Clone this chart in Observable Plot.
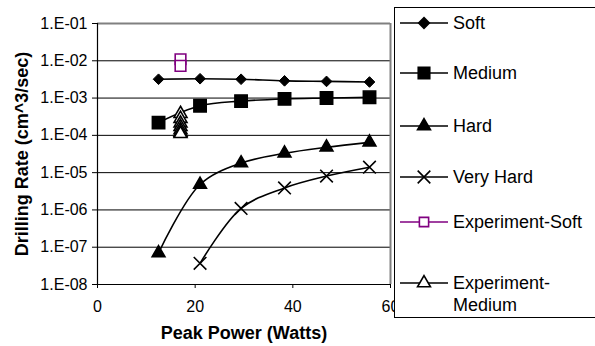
<!DOCTYPE html>
<html>
<head>
<meta charset="utf-8">
<script src="https://cdn.jsdelivr.net/npm/d3@7"></script>
<script src="https://cdn.jsdelivr.net/npm/@observablehq/plot@0.6"></script>
<style>
  html, body { margin: 0; padding: 0; background: #fff; }
  #wrap { position: relative; width: 595px; height: 346px; overflow: hidden; font-family: "Liberation Sans", Arial, sans-serif; }
  #legend { position: absolute; left: 394px; top: 7px; width: 220px; height: 311px; border: 1px solid #000; background: #fff; box-sizing: border-box; }
  .item { position: absolute; left: 0; display: flex; align-items: flex-start; font-size: 18px; color: #000; line-height: 22px; }
  .item svg { flex: none; margin-left: 5px; margin-right: 5px; }
</style>
</head>
<body>
<div id="wrap"></div>
<script>
const powers = [12.5, 21, 29.4, 38.3, 46.9, 55.7];
const soft = [3.2e-3, 3.3e-3, 3.2e-3, 2.9e-3, 2.8e-3, 2.7e-3];
const medium = [2.2e-4, 6.2e-4, 8.3e-4, 9.5e-4, 1.0e-3, 1.05e-3];
const hard = [7.0e-8, 4.8e-6, 1.8e-5, 3.3e-5, 4.8e-5, 6.5e-5];
const veryHardPowers = [21, 29.4, 38.3, 46.9, 55.7];
const veryHard = [3.7e-8, 1.1e-6, 3.9e-6, 8.1e-6, 1.4e-5];
const expPower = 17;
const expSoft = [1.1e-2, 7.3e-3];
const expMedium = [3.8e-4, 2.8e-4, 2.1e-4, 1.7e-4, 1.4e-4, 1.2e-4, 1.1e-4];
const yTicks = [1e-8, 1e-7, 1e-6, 1e-5, 1e-4, 1e-3, 1e-2, 1e-1];
const xTicks = [0, 20, 40, 60];
const seriesNames = ["Soft", "Medium", "Hard", "Very Hard", "Experiment-Soft", "Experiment-\nMedium"];
const xTitle = "Peak Power (Watts)";
const yTitle = "Drilling Rate (cm^3/sec)";

const toRows = (xs, ys) => ys.map((v, i) => ({x: xs[i], y: v}));
const softRows = toRows(powers, soft);
const medRows = toRows(powers, medium);
const hardRows = toRows(powers, hard);
const vhRows = toRows(veryHardPowers, veryHard);
const esRows = expSoft.map(v => ({x: expPower, y: v}));
const emRows = expMedium.map(v => ({x: expPower, y: v}));

const fmt = d => "1.E-" + String(-Math.round(Math.log10(d))).padStart(2, "0");

const chart = Plot.plot({
  width: 595,
  height: 346,
  marginLeft: 97,
  marginRight: 205,
  marginTop: 23,
  marginBottom: 62,
  style: {fontFamily: "'Liberation Sans', Arial, sans-serif", fontSize: "16px", color: "#000", background: "#fff", overflow: "visible"},
  x: {domain: [0, 60], label: null},
  y: {type: "log", domain: [1e-8, 1e-1], label: null},
  marks: [
    Plot.ruleY(yTicks, {stroke: "#000", strokeWidth: 1}),
    Plot.ruleX([60], {stroke: "#808080", strokeWidth: 2}),
    Plot.ruleY([1e-1], {stroke: "#808080", strokeWidth: 2}),
    Plot.ruleX([0], {stroke: "#000", strokeWidth: 1.2}),
    Plot.ruleY([1e-8], {stroke: "#000", strokeWidth: 1.2}),
    Plot.axisX({ticks: xTicks, tickSize: 4, tickPadding: 12, fontSize: 16, label: null}),
    Plot.axisY({ticks: yTicks, tickFormat: fmt, tickSize: 5, tickPadding: 5, fontSize: 16, label: null}),
    Plot.line(softRows, {x: "x", y: "y", curve: "catmull-rom", stroke: "#000", strokeWidth: 1.6}),
    Plot.line(medRows, {x: "x", y: "y", curve: "catmull-rom", stroke: "#000", strokeWidth: 1.6}),
    Plot.line(hardRows, {x: "x", y: "y", curve: "catmull-rom", stroke: "#000", strokeWidth: 1.6}),
    Plot.line(vhRows, {x: "x", y: "y", curve: "catmull-rom", stroke: "#000", strokeWidth: 1.6}),
    Plot.dot(softRows, {x: "x", y: "y", symbol: "diamond2", r: 4.8, fill: "#000", stroke: "#000", strokeWidth: 1}),
    Plot.dot(medRows, {x: "x", y: "y", symbol: "square", r: 7, fill: "#000", stroke: "#000"}),
    Plot.dot(hardRows, {x: "x", y: "y", symbol: "triangle", r: 4.8, fill: "#000", stroke: "#000"}),
    Plot.dot(vhRows, {x: "x", y: "y", symbol: "times", r: 5.8, fill: "none", stroke: "#000", strokeWidth: 1.6}),
    Plot.dot(esRows, {x: "x", y: "y", symbol: "square", r: 6, fill: "#fff", stroke: "#800080", strokeWidth: 1.6}),
    Plot.dot(emRows, {x: "x", y: "y", symbol: "triangle", r: 4.8, fill: "#fff", stroke: "#000", strokeWidth: 1.6}),
    Plot.text([xTitle], {x: 30, y: 1e-8, dy: 49, text: d => d, fontWeight: "bold", fontSize: 18, lineAnchor: "middle"}),
    Plot.text([yTitle], {x: 0, y: 10 ** -4.5, dx: -75, text: d => d, rotate: -90, fontWeight: "bold", fontSize: 18, lineAnchor: "middle"})
  ]
});

const wrap = document.getElementById("wrap");
wrap.appendChild(chart);

// Legend
const legend = document.createElement("div");
legend.id = "legend";
wrap.appendChild(legend);
const legendSpec = [
  {name: seriesNames[0], symbol: d3.symbolDiamond2, r: 4.8, fill: "#000", stroke: "#000", cy: 15},
  {name: seriesNames[1], symbol: d3.symbolSquare, r: 6.5, fill: "#000", stroke: "#000", cy: 65},
  {name: seriesNames[2], symbol: d3.symbolTriangle, r: 4.8, fill: "#000", stroke: "#000", cy: 118},
  {name: seriesNames[3], symbol: d3.symbolTimes, r: 5.8, fill: "none", stroke: "#000", cy: 169},
  {name: seriesNames[4], symbol: d3.symbolSquare, r: 5.2, fill: "#fff", stroke: "#800080", cy: 214},
  {name: seriesNames[5], symbol: d3.symbolTriangle, r: 4.8, fill: "#fff", stroke: "#000", cy: 275}
];
legendSpec.forEach(s => {
  const item = document.createElement("div");
  item.className = "item";
  item.style.top = (s.cy - 11) + "px";
  const path = d3.symbol(s.symbol, Math.PI * s.r * s.r)();
  const svg = `<svg width="48" height="22"><line x1="0" x2="48" y1="11" y2="11" stroke="${s.stroke}" stroke-width="1.6"/><path d="${path}" transform="translate(24,11)" fill="${s.fill}" stroke="${s.stroke}" stroke-width="1.6"/></svg>`;
  const label = s.name.split("\n").join("<br>");
  item.innerHTML = svg + `<span>${label}</span>`;
  legend.appendChild(item);
});
</script>
</body>
</html>
